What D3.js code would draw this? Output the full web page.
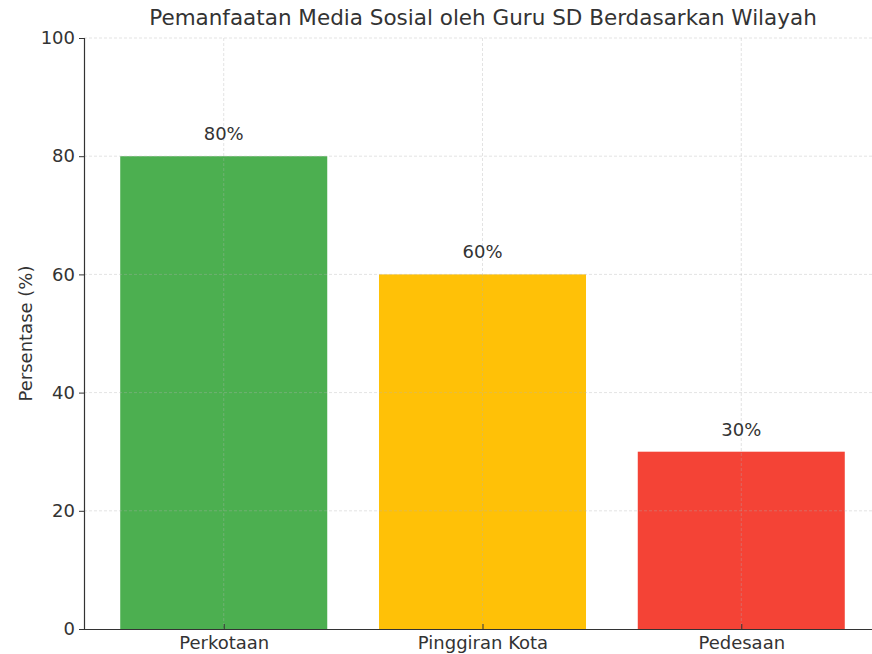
<!DOCTYPE html>
<html>
<head>
<meta charset="utf-8">
<script src="https://cdn.jsdelivr.net/npm/d3@7"></script>
<style>
  html, body { margin: 0; padding: 0; background: #fff; }
  svg { display: block; font-family: "DejaVu Sans", sans-serif; }
</style>
</head>
<body>
<svg id="chart" width="872" height="654"></svg>
<script>
const categories = ["Perkotaan", "Pinggiran Kota", "Pedesaan"];
const values = [80, 60, 30];
const barColors = ["#4caf50", "#ffc107", "#f44336"];
const yTicks = [0, 20, 40, 60, 80, 100];

const svg = d3.select("#chart");
const textColor = "#333";
const fontFamily = "DejaVu Sans, sans-serif";
const labelSize = 18;

const margin = { left: 84, top: 38, bottom: 629, right: 881 };

// matplotlib-like layout: bars of width 0.8 at integer positions, 5% margins
const x = d3.scaleLinear()
  .domain([-0.54, categories.length - 1 + 0.54])
  .range([margin.left, margin.right]);

const y = d3.scaleLinear()
  .domain([0, 100])
  .range([margin.bottom, margin.top]);

const barWidth = 0.8;

// bars
svg.append("g")
  .selectAll("rect")
  .data(values)
  .join("rect")
  .attr("x", (d, i) => x(i - barWidth / 2))
  .attr("y", d => y(d))
  .attr("width", x(barWidth) - x(0))
  .attr("height", d => y(0) - y(d))
  .attr("fill", (d, i) => barColors[i]);

// grid, drawn over the bars
const grid = svg.append("g")
  .attr("stroke", "#b0b0b0")
  .attr("stroke-opacity", 0.45)
  .attr("stroke-dasharray", "3,2")
  .attr("stroke-width", 0.8);

grid.selectAll("line.h")
  .data(yTicks.slice(1))
  .join("line")
  .attr("class", "h")
  .attr("x1", margin.left)
  .attr("x2", 872)
  .attr("y1", d => y(d))
  .attr("y2", d => y(d));

grid.selectAll("line.v")
  .data(categories)
  .join("line")
  .attr("class", "v")
  .attr("x1", (d, i) => x(i))
  .attr("x2", (d, i) => x(i))
  .attr("y1", margin.top)
  .attr("y2", margin.bottom);

// y axis
const yAxis = svg.append("g")
  .attr("transform", `translate(${margin.left},0)`)
  .call(d3.axisLeft(y).tickValues(yTicks).tickSize(5).tickPadding(4));
yAxis.select(".domain").attr("stroke", "#333").attr("stroke-width", 1.2);
yAxis.selectAll(".tick line").attr("stroke", "#333");
yAxis.selectAll(".tick text")
  .attr("fill", textColor)
  .attr("font-size", labelSize)
  .attr("font-family", fontFamily);

// x axis
const xAxis = svg.append("g")
  .attr("transform", `translate(0,${margin.bottom})`)
  .call(d3.axisBottom(x)
    .tickValues(d3.range(categories.length))
    .tickFormat(i => categories[i])
    .tickSizeInner(-5)
    .tickSizeOuter(0)
    .tickPadding(7));
xAxis.select(".domain").attr("stroke", "#333").attr("stroke-width", 1.2);
xAxis.selectAll(".tick line").attr("stroke", "#333");
xAxis.selectAll(".tick text")
  .attr("fill", textColor)
  .attr("font-size", labelSize)
  .attr("font-family", fontFamily);

// value labels
svg.append("g")
  .selectAll("text")
  .data(values)
  .join("text")
  .attr("x", (d, i) => x(i))
  .attr("y", d => y(d) - 16)
  .attr("text-anchor", "middle")
  .attr("fill", textColor)
  .attr("font-family", fontFamily)
  .attr("font-size", labelSize)
  .text(d => d + "%");

// title
svg.append("text")
  .attr("x", 483)
  .attr("y", 25)
  .attr("text-anchor", "middle")
  .attr("fill", textColor)
  .attr("font-family", fontFamily)
  .attr("font-size", 21.5)
  .text("Pemanfaatan Media Sosial oleh Guru SD Berdasarkan Wilayah");

// y label
svg.append("text")
  .attr("transform", `translate(32,${(margin.top + margin.bottom) / 2}) rotate(-90)`)
  .attr("text-anchor", "middle")
  .attr("fill", textColor)
  .attr("font-family", fontFamily)
  .attr("font-size", labelSize)
  .text("Persentase (%)");
</script>
</body>
</html>
